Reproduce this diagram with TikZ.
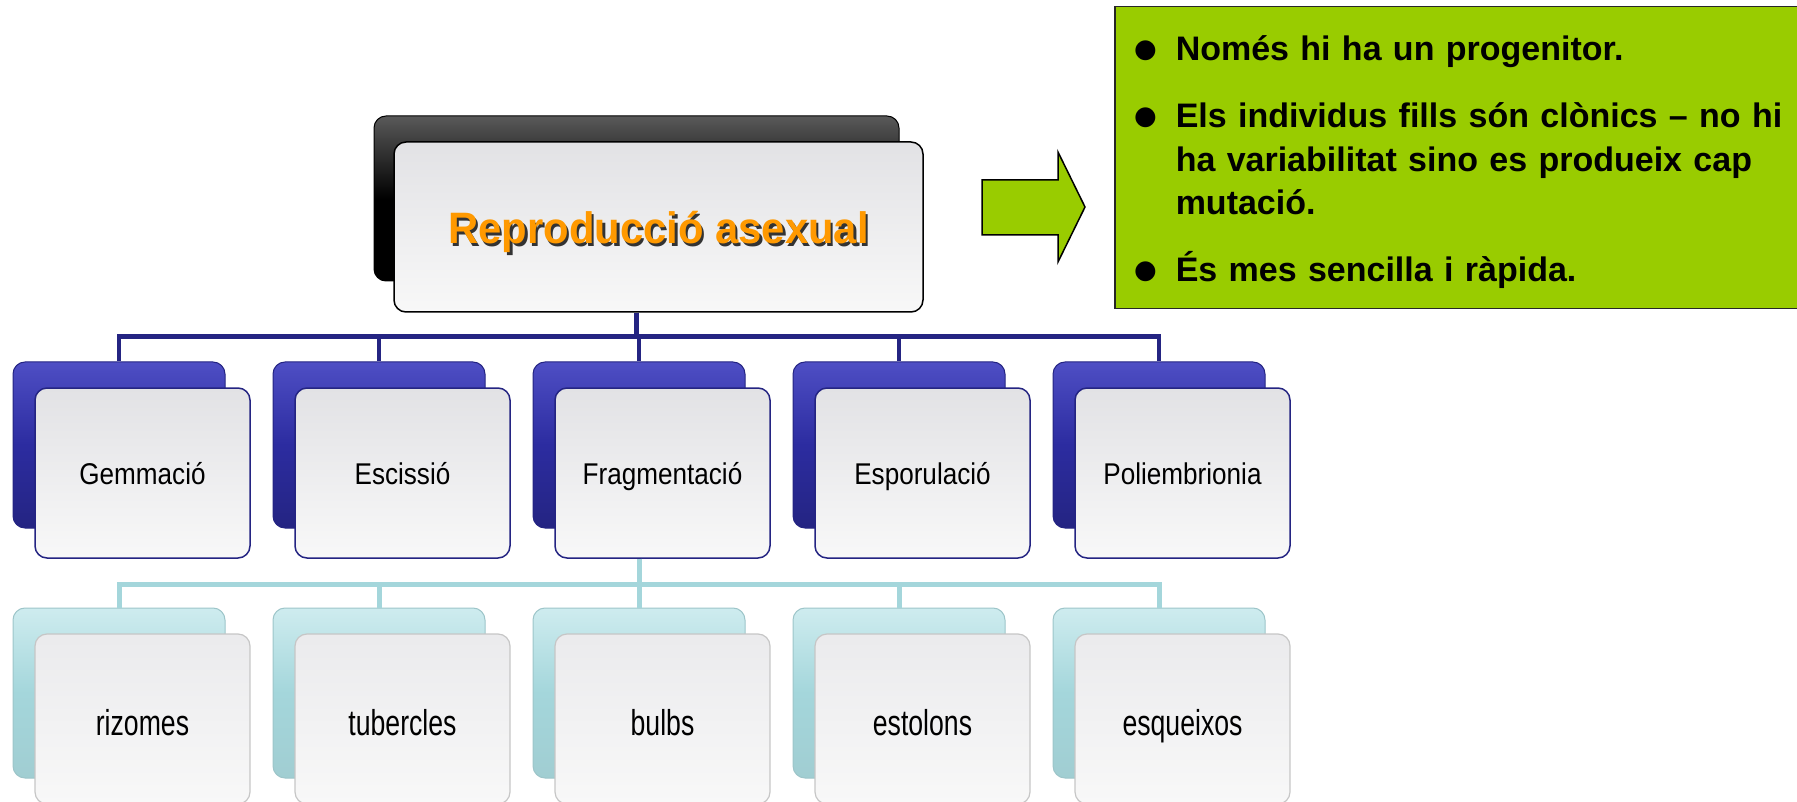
\documentclass[tikz,border=0pt]{standalone}
\usepackage{fontspec}
\setmainfont{Liberation Sans}
\newfontfamily\labelfont[FakeStretch=0.87]{Liberation Sans}
\newfontfamily\leaffont[FakeStretch=0.74]{Liberation Sans}
\newfontfamily\titlefont[FakeStretch=0.95]{Liberation Sans}
\newfontfamily\dotfont{DejaVu Sans}
\usepackage{enumitem}
\usepackage{tikz}
\usetikzlibrary{positioning}
\usepackage{xcolor}
\definecolor{rnavy}{RGB}{36,36,130}
\definecolor{rnavymid}{RGB}{44,44,160}
\definecolor{rnavylight}{RGB}{78,78,196}
\definecolor{rteal}{RGB}{164,214,219}
\definecolor{rteallight}{RGB}{206,236,239}
\definecolor{rgreen}{RGB}{153,204,0}
\definecolor{rorange}{RGB}{255,153,0}
\definecolor{rpanel}{RGB}{226,226,229}
\definecolor{rpanellight}{RGB}{248,248,248}
\tikzstyle{rootback} = [rectangle, rounded corners=12pt, minimum width=525pt, minimum height=165pt, draw=black, top color=black!65, bottom color=black, middle color=black, line width=1pt]
\tikzstyle{rootbox} = [rectangle, rounded corners=12pt, minimum width=529pt, minimum height=170pt, draw=black, top color=rpanel, bottom color=rpanellight, line width=1.5pt, text height=34pt, text depth=0pt, font=\titlefont\bfseries\fontsize{44}{44}\selectfont]
\tikzstyle{midback} = [rectangle, rounded corners=12pt, minimum width=212pt, minimum height=166pt, draw=rnavy, top color=rnavylight, bottom color=rnavy, middle color=rnavymid, line width=1pt]
\tikzstyle{midbox} = [rectangle, rounded corners=12pt, minimum width=215pt, minimum height=170pt, draw=rnavy, top color=rpanel, bottom color=rpanellight, line width=1.5pt, text height=22pt, text depth=0pt, font=\labelfont\fontsize{30}{30}\selectfont]
\tikzstyle{leafback} = [rectangle, rounded corners=12pt, minimum width=212pt, minimum height=170pt, draw=rteal!80!gray, top color=rteallight, bottom color=rteal!90!gray, middle color=rteal, line width=1pt]
\tikzstyle{leafbox} = [rectangle, rounded corners=12pt, minimum width=215pt, minimum height=170pt, draw=gray!45, top color=rpanel!70, bottom color=rpanellight, line width=1.2pt, text height=33pt, text depth=0pt, font=\leaffont\fontsize{36}{36}\selectfont]
\tikzstyle{busline} = [line width=4.5pt, color=rnavy]
\tikzstyle{leafline} = [line width=5pt, color=rteal]
\tikzstyle{notebox} = [rectangle, draw=black!85, fill=rgreen, line width=1.5pt, minimum height=302pt, text width=690pt, inner xsep=0pt, inner ysep=0pt, align=left, font=\bfseries\fontsize{34}{43.5}\selectfont]
\newcommand{\shadowtitle}[1]{\makebox[0pt][l]{\hspace{2.5pt}\raisebox{-2.5pt}{\color{black!80}#1}}{\color{rorange}#1}}

\begin{document}
\begin{tikzpicture}[x=1pt, y=-1pt]
\useasboundingbox (0,0) rectangle (1797,802);

% Root
\node[rootback] (rootback) at (636.5,198.5) {};
\node[rootbox, xshift=22pt, yshift=-28.5pt] (root) at (rootback) {\shadowtitle{Reproducció asexual}};

% Types of reproduction
\node[midback] (gemback) at (119,445) {};
\node[midback, right=47pt of gemback] (escback) {};
\node[midback, right=47pt of escback] (fragback) {};
\node[midback, right=47pt of fragback] (espback) {};
\node[midback, right=47pt of espback] (polback) {};
\node[midbox, xshift=23.5pt, yshift=-28pt] (gem) at (gemback) {Gemmació};
\node[midbox, xshift=23.5pt, yshift=-28pt] (esc) at (escback) {Escissió};
\node[midbox, xshift=23.5pt, yshift=-28pt] (frag) at (fragback) {Fragmentació};
\node[midbox, xshift=23.5pt, yshift=-28pt] (esp) at (espback) {Esporulació};
\node[midbox, xshift=23.5pt, yshift=-28pt] (pol) at (polback) {Poliembrionia};

% Kinds of fragmentation
\node[leafback, below=79pt of gemback] (rizback) {};
\node[leafback, below=79pt of escback] (tubback) {};
\node[leafback, below=79pt of fragback] (bulback) {};
\node[leafback, below=79pt of espback] (estback) {};
\node[leafback, below=79pt of polback] (esqback) {};
\node[leafbox, xshift=23.5pt, yshift=-26pt] (riz) at (rizback) {rizomes};
\node[leafbox, xshift=23.5pt, yshift=-26pt] (tub) at (tubback) {tubercles};
\node[leafbox, xshift=23.5pt, yshift=-26pt] (bul) at (bulback) {bulbs};
\node[leafbox, xshift=23.5pt, yshift=-26pt] (est) at (estback) {estolons};
\node[leafbox, xshift=23.5pt, yshift=-26pt] (esq) at (esqback) {esqueixos};

% Connections
\draw[busline] (rootback |- root.south) -- ++(0,24) -| (gemback.north);
\draw[busline] (rootback |- root.south) -- ++(0,24) -| (escback.north);
\draw[busline] (rootback |- root.south) -- ++(0,24) -| (fragback.north);
\draw[busline] (rootback |- root.south) -- ++(0,24) -| (espback.north);
\draw[busline] (rootback |- root.south) -- ++(0,24) -| (polback.north);
\draw[leafline] (fragback |- frag.south) -- ++(0,26) -| (rizback.north);
\draw[leafline] (fragback |- frag.south) -- ++(0,26) -| (tubback.north);
\draw[leafline] (fragback |- frag.south) -- ++(0,26) -| (bulback.north);
\draw[leafline] (fragback |- frag.south) -- ++(0,26) -| (estback.north);
\draw[leafline] (fragback |- frag.south) -- ++(0,26) -| (esqback.north);

% Block arrow
\draw[line width=1.5pt, fill=rgreen] (982,180) -- (1058,180) -- (1058,152) -- (1085,207) -- (1058,262) -- (1058,235) -- (982,235) -- cycle;

% Notes
\node[notebox, anchor=north west] (notes) at (1114,6) {%
\vspace*{-9pt}
\begin{itemize}[leftmargin=61pt, labelsep=19pt, itemsep=23.5pt, parsep=0pt, topsep=0pt, partopsep=0pt, label={\raisebox{3pt}{\dotfont\fontsize{26}{26}\selectfont ●}}]
\item Només hi ha un progenitor.
\item Els individus fills són clònics -- no hi\\ha variabilitat sino es produeix cap\\mutació.
\item És mes sencilla i ràpida.
\end{itemize}};

\end{tikzpicture}
\end{document}
